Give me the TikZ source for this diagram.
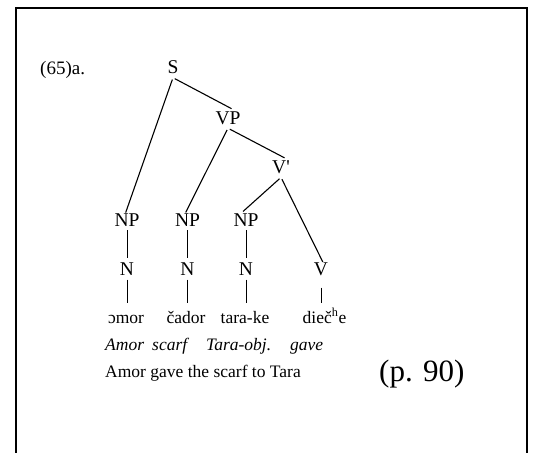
\documentclass[tikz,border=0pt]{standalone}
\usepackage{fontspec}
\setmainfont{Liberation Serif}
\newfontfamily\rawserif{Liberation Serif}[Ligatures=TeXOff]
\begin{document}
\begin{tikzpicture}[x=1pt,y=-1pt,
  lbl/.style={font=\fontsize{19.5}{22}\selectfont, text height=13pt, text depth=0pt, inner xsep=0pt, inner ysep=4pt},
  wordnode/.style={font=\fontsize{17.5}{20}\selectfont, anchor=base, text height=12pt, text depth=4pt, inner xsep=0pt, inner ysep=8pt},
  txt/.style={font=\fontsize{17.5}{20}\selectfont, anchor=base west, inner sep=0pt},
  gloss/.style={txt, font=\fontsize{17.5}{20}\selectfont\itshape},
  branch/.style={line width=1.1pt, shorten <=2pt, shorten >=-4pt},
  stem/.style={line width=1pt},
  framestyle/.style={line width=2pt, line join=miter}]
\useasboundingbox (0,0) rectangle (542,453);
\draw[framestyle] (16,453) -- (16,7.5) -- (527,7.5) -- (527,453);

\node[txt, font=\fontsize{19}{22}\selectfont] (ex) at (40,74) {(65)a.};

\node[lbl] (S) at (173,67) {S};
\node[lbl] (VP) at (228,117.5) {VP};
\node[lbl] (Vbar) at (281,166.7) {V{\rawserif '}};
\node[lbl] (NP1) at (127,219.5) {NP};
\node[lbl] (NP2) at (187.5,219.5) {NP};
\node[lbl] (NP3) at (246,219.5) {NP};
\node[lbl] (N1) at (127,269) {N};
\node[lbl] (N2) at (187.5,269) {N};
\node[lbl] (N3) at (246,269) {N};
\node[lbl] (V) at (321,269) {V};

\node[wordnode] (w1) at (126,323) {ɔmor};
\node[wordnode] (w2) at (186,323) {čador};
\node[wordnode] (w3) at (245,323) {tara-ke};
\node[wordnode] (w4) at (324.5,323) {dieč\textsuperscript{h}e};

\draw[branch] (S.south) -- (NP1.north);
\draw[branch] (S.south) -- (VP.north);
\draw[branch] (VP.south) -- (NP2.north);
\draw[branch] (VP.south) -- (Vbar.north);
\draw[branch] (Vbar.south) -- (NP3.north);
\draw[branch] (Vbar.south) -- (V.north);

\draw[stem] (NP1.south) -- (N1.north);
\draw[stem] (NP2.south) -- (N2.north);
\draw[stem] (NP3.south) -- (N3.north);
\draw[stem] (N1.south) -- (N1.south |- w1.north);
\draw[stem] (N2.south) -- (N2.south |- w2.north);
\draw[stem] (N3.south) -- (N3.south |- w3.north);
\draw[stem, shorten <=8pt] (V.south) -- (V.south |- w4.north);

\node[gloss] (g1) at (105,350) {Amor};
\node[gloss] (g2) at (152,350) {scarf};
\node[gloss] (g3) at (206,350) {Tara-obj.};
\node[gloss] (g4) at (290,350) {gave};

\node[txt] (tr) at (105,377) {Amor gave the scarf to Tara};
\node[txt, font=\fontsize{31}{34}\selectfont] (pg) at (379,381) {(p. 90)};
\end{tikzpicture}
\end{document}
